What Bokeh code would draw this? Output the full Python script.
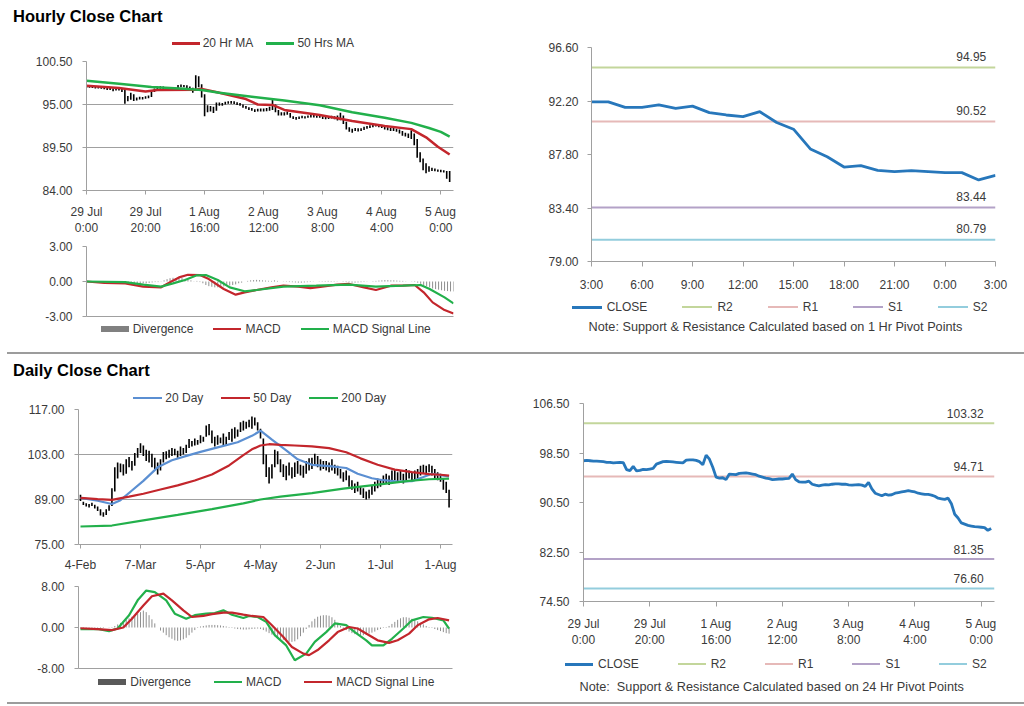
from bokeh.plotting import figure
from bokeh.models import FixedTicker, NumeralTickFormatter, Range1d, Div
from bokeh.layouts import column, row
from bokeh.embed import file_html
from bokeh.resources import INLINE
from bokeh.core.properties import value

# ---------------------------------------------------------------- data
hour_ticks = [0, 20, 40, 60, 80, 100, 120]
hour_tick_labels = ["29 Jul\n0:00", "29 Jul\n20:00", "1 Aug\n16:00", "2 Aug\n12:00",
                    "3 Aug\n8:00", "4 Aug\n4:00", "5 Aug\n0:00"]

hourly_close = [97.25, 97.3, 97.25, 97.2, 97.2, 97.15, 97.1, 97.0, 97.0, 96.9,
                96.95, 97.0, 96.95, 95.8, 95.65, 96.35, 95.6, 95.7, 95.85, 95.8,
                95.9, 96.0, 96.7, 96.9, 97.1, 97.15, 97.1, 97.05, 97.0, 96.95,
                96.9, 97.35, 97.4, 97.4, 97.3, 97.1, 96.6, 98.15, 97.5, 96.2,
                94.6, 94.45, 94.5, 94.2, 95.1, 95.05, 95.0, 95.2, 95.25, 95.3,
                95.2, 95.1, 95.0, 94.75, 94.6, 94.45, 94.35, 94.2, 94.25, 94.3,
                94.3, 94.35, 94.4, 95.1, 94.2, 93.85, 93.8, 93.8, 93.95, 93.45,
                93.3, 93.2, 93.3, 93.4, 93.35, 93.45, 93.5, 93.5, 93.45, 93.45,
                93.35, 93.3, 93.35, 93.4, 93.3, 93.1, 93.75, 92.7, 92.0, 91.8,
                91.6, 91.85, 91.7, 91.75, 92.0, 92.1, 92.2, 92.3, 92.4, 92.3,
                92.2, 92.0, 91.9, 91.8, 91.8, 91.7, 91.5, 91.2, 91.1, 91.0,
                91.2, 90.3, 88.6, 88.0, 87.2, 87.0, 86.8, 86.7, 86.6, 86.55,
                86.5, 86.45, 86.0, 86.3]
hourly_low = [97.1, 97.15, 97.1, 97.05, 97.05, 97.0, 96.95, 96.85, 96.85, 96.7,
              96.8, 96.8, 96.6, 95.1, 95.4, 95.6, 95.45, 95.5, 95.65, 95.65,
              95.75, 95.8, 95.95, 96.6, 96.85, 97.0, 96.95, 96.9, 96.85, 96.8,
              96.75, 96.9, 97.2, 97.2, 97.1, 96.95, 96.5, 96.8, 97.2, 95.9,
              93.5, 94.0, 94.1, 93.9, 94.2, 94.85, 94.85, 95.0, 95.1, 95.1,
              95.05, 94.95, 94.85, 94.6, 94.45, 94.3, 94.2, 94.05, 94.1, 94.1,
              94.1, 94.15, 94.2, 94.3, 94.0, 93.6, 93.6, 93.6, 93.7, 93.3,
              93.15, 93.05, 93.15, 93.25, 93.2, 93.3, 93.35, 93.35, 93.3, 93.3,
              93.15, 93.1, 93.15, 93.2, 93.1, 92.95, 93.0, 92.5, 91.8, 91.5,
              91.4, 91.6, 91.55, 91.6, 91.75, 91.9, 92.0, 92.1, 92.2, 92.1,
              92.0, 91.8, 91.7, 91.6, 91.6, 91.5, 91.3, 91.0, 90.9, 90.7,
              90.6, 89.8, 88.2, 87.6, 86.6, 86.2, 86.4, 86.5, 86.45, 86.4,
              86.35, 86.3, 85.5, 85.1]
hourly_high = [97.45, 97.45, 97.4, 97.35, 97.35, 97.3, 97.25, 97.2, 97.15, 97.05,
               97.1, 97.15, 97.1, 96.9, 96.1, 96.5, 96.3, 95.9, 96.0, 95.95,
               96.05, 96.15, 96.85, 97.05, 97.3, 97.35, 97.3, 97.2, 97.15, 97.1,
               97.15, 97.5, 97.55, 97.5, 97.45, 97.3, 97.15, 98.75, 98.6, 97.6,
               96.3, 94.9, 94.8, 94.7, 95.25, 95.25, 95.2, 95.35, 95.4, 95.45,
               95.4, 95.3, 95.2, 95.0, 94.8, 94.65, 94.55, 94.4, 94.45, 94.5,
               94.5, 94.55, 94.7, 95.6, 95.0, 94.3, 94.0, 94.0, 94.1, 93.9,
               93.5, 93.4, 93.45, 93.55, 93.5, 93.6, 93.65, 93.65, 93.6, 93.6,
               93.5, 93.5, 93.5, 93.55, 93.5, 93.6, 93.95, 93.6, 92.8, 92.1,
               91.9, 92.0, 91.95, 91.95, 92.15, 92.25, 92.35, 92.45, 92.5, 92.45,
               92.4, 92.2, 92.1, 92.0, 92.0, 91.9, 91.8, 91.6, 91.4, 91.3,
               91.7, 91.3, 90.6, 88.9, 88.1, 87.5, 87.1, 86.9, 86.8, 86.7,
               86.65, 86.6, 86.5, 86.5]
ma20h_x = [0, 11, 20, 24, 37, 39, 45, 54, 58, 63, 67, 79, 85, 90, 101, 110, 115, 119, 123]
ma20h_y = [97.4, 97.1, 96.65, 96.85, 96.9, 97.0, 96.5, 95.7, 95.0, 94.95, 94.3, 93.65,
           93.25, 92.9, 92.25, 91.85, 90.8, 89.6, 88.6]
ma50h_x = [0, 11, 22, 33, 39, 45, 56, 67, 79, 90, 101, 110, 116, 120, 123]
ma50h_y = [98.05, 97.65, 97.25, 97.0, 96.85, 96.5, 96.0, 95.5, 94.9, 94.0, 93.3, 92.65,
           92.0, 91.5, 90.9]
hmacd_x = [0, 6, 13, 19, 25, 28, 31, 34, 38, 41, 46, 50, 53, 57, 62, 66, 71, 75, 79, 84,
           88, 93, 97, 102, 106, 110, 113, 116, 120, 123]
hmacd_y = [0.0, -0.13, -0.16, -0.44, -0.5, -0.07, 0.35, 0.58, 0.55, 0.21, -0.64, -1.13,
           -0.93, -0.73, -0.5, -0.36, -0.44, -0.56, -0.44, -0.27, -0.21, -0.5, -0.73,
           -0.36, -0.36, -0.3, -0.93, -1.79, -2.45, -2.75]
hsig_x = [0, 13, 19, 25, 29, 33, 37, 40, 44, 48, 53, 57, 66, 77, 88, 97, 106, 112, 115, 120, 123]
hsig_y = [0.0, -0.06, -0.27, -0.44, -0.16, 0.13, 0.53, 0.55, 0.13, -0.5, -0.84, -0.73,
          -0.44, -0.36, -0.27, -0.44, -0.36, -0.3, -0.64, -1.36, -1.88]
hourly_divergence = [0.02, 0.02, 0.03, 0.02, 0.02, 0.01, 0.0, -0.02, -0.03, -0.05, -0.05,
                     -0.06, -0.08, -0.15, -0.18,
                     -0.15, -0.2, -0.2, -0.18, -0.17, -0.15, -0.12, -0.08, -0.05, -0.05, 0.02,
                     0.1, 0.2, 0.28, 0.32, 0.3, 0.33, 0.3, 0.22, 0.15, 0.1, 0.02,
                     0.05, -0.05, -0.15, -0.3, -0.4, -0.45, -0.5, -0.5, -0.45, -0.42, -0.38,
                     -0.35, -0.3, -0.25, -0.15, -0.1,
                     0.0, 0.05, 0.1, 0.12, 0.14, 0.12, 0.1, 0.08, 0.06, 0.05, 0.1, 0.05, 0.0, -0.02,
                     -0.03, -0.05, -0.06, -0.08, -0.1, -0.1, -0.08, -0.06, -0.04, -0.02, 0.0,
                     0.02, 0.03, 0.04, 0.05, 0.04, 0.03, 0.02, 0.0, 0.03, -0.05, -0.08, -0.1, -0.1,
                     -0.08, -0.06, -0.04, -0.02, 0.0, 0.03, 0.05, 0.08, 0.1, 0.12, 0.12, 0.1,
                     0.1, 0.08, 0.06, 0.05, 0.02, 0.0, -0.02, -0.04,
                     -0.1, -0.2, -0.3, -0.4, -0.5, -0.6, -0.65, -0.7, -0.75, -0.8, -0.82, -0.85, -0.85]

last24_ticks = [0, 3, 6, 9, 12, 15, 18, 21, 24]
last24_labels = ["3:00", "6:00", "9:00", "12:00", "15:00", "18:00", "21:00", "0:00", "3:00"]
last24_close = [92.13, 92.13, 91.67, 91.67, 91.89, 91.59, 91.78, 91.24, 91.05, 90.91,
                91.32, 90.43, 89.88, 88.26, 87.61, 86.77, 86.88, 86.50, 86.39, 86.47,
                86.39, 86.31, 86.31, 85.71, 86.09]
level_names = ["R2", "R1", "S1", "S2"]
levels_1h = [94.95, 90.52, 83.44, 80.79]
levels_24h = [103.32, 94.71, 81.35, 76.60]

day_ticks = [0, 21, 42, 63, 84, 105, 126]
day_tick_labels = ["4-Feb", "7-Mar", "5-Apr", "4-May", "2-Jun", "1-Jul", "1-Aug"]
daily_low = [88.5, 87.3, 86.8, 86.5, 87.0, 86.2, 85.4, 84.0, 83.6, 84.2,
             85.5, 87.0, 91.5, 95.5, 97.5, 96.5, 97.0, 99.0, 98.0, 99.5,
             102.0, 103.5, 102.5, 101.0, 100.5, 99.0, 98.5, 96.8, 98.0, 100.5,
             101.5, 102.0, 102.5, 102.8, 102.0, 102.5, 103.0, 103.5, 105.0, 105.5,
             105.8, 106.0, 106.5, 107.0, 108.5, 109.0, 106.5, 105.5, 106.0, 106.5,
             105.8, 106.0, 107.5, 107.0, 108.0, 108.5, 110.0, 110.5, 111.0, 111.5,
             111.0, 112.0, 110.5, 108.0, 100.0, 96.0, 94.0, 95.5, 99.0, 100.0,
             97.5, 96.0, 95.0, 96.5, 95.5, 96.0, 97.0, 96.5, 95.8, 97.0,
             98.0, 98.5, 99.5, 99.0, 98.0, 98.5, 98.0, 97.5, 98.0, 97.0,
             96.5, 95.5, 94.5, 95.0, 93.0, 92.0, 91.0, 91.5, 90.5, 89.5,
             89.0, 89.3, 90.5, 91.5, 92.5, 93.0, 93.5, 94.0, 93.5, 94.5,
             95.0, 94.5, 95.0, 94.0, 95.0, 95.5, 94.5, 95.0, 95.5, 96.5,
             97.0, 96.8, 97.5, 96.5, 95.5, 95.0, 94.5, 92.0, 91.0, 86.5]
daily_high = [90.5, 88.3, 87.8, 87.6, 88.0, 87.4, 86.8, 86.0, 85.0, 86.0,
              87.2, 92.5, 99.0, 100.5, 100.2, 100.0, 101.5, 102.2, 101.0, 103.5,
              105.0, 106.5, 105.8, 104.5, 104.2, 103.2, 102.0, 100.5, 101.5, 103.8,
              104.0, 104.5, 105.0, 104.8, 104.2, 105.5, 105.0, 106.0, 107.8, 107.2,
              108.0, 107.5, 109.0, 108.5, 112.0, 112.5, 110.5, 108.5, 109.0, 108.3,
              109.5, 108.5, 110.0, 111.0, 111.5, 110.8, 113.0, 113.5, 113.2, 113.8,
              114.8, 114.5, 113.0, 111.0, 108.0, 103.0, 99.0, 100.0, 104.5, 104.0,
              101.5, 100.0, 99.5, 100.5, 99.0, 100.5, 101.0, 99.8, 99.5, 101.0,
              101.8, 102.0, 103.2, 102.5, 101.5, 101.0, 101.0, 100.5, 101.5, 99.8,
              99.5, 98.5, 97.5, 98.0, 96.5, 95.0, 94.0, 94.5, 93.0, 92.5,
              91.5, 92.0, 93.5, 94.5, 95.5, 95.0, 96.5, 97.0, 96.5, 98.0,
              98.5, 97.5, 98.2, 97.0, 98.5, 98.0, 97.5, 98.0, 98.5, 99.5,
              99.8, 99.5, 100.0, 99.5, 98.5, 97.5, 97.0, 95.5, 94.5, 92.0]
ma20d_x = [0, 6, 11, 14, 18, 22, 27, 32, 38, 42, 48, 55, 60, 63, 67, 72, 76, 81, 87, 93,
           97, 102, 106, 111, 116, 120, 123, 126, 129]
ma20d_y = [89.5, 88.6, 87.6, 88.8, 91.8, 94.8, 99.0, 101.2, 102.8, 103.8, 105.2, 106.8,
           108.8, 110.4, 107.6, 104.3, 101.5, 99.8, 99.4, 98.8, 97.0, 95.6, 95.0, 94.6,
           94.7, 96.0, 97.0, 96.6, 96.2]
ma50d_x = [0, 6, 11, 17, 22, 28, 34, 40, 46, 52, 57, 60, 63, 66, 70, 75, 81, 87, 93, 98,
           104, 110, 116, 122, 126, 129]
ma50d_y = [89.5, 89.1, 88.9, 89.9, 90.8, 92.1, 93.4, 94.9, 96.8, 99.6, 102.8, 104.6, 105.8,
           106.2, 106.0, 105.8, 105.5, 105.0, 103.7, 101.8, 99.8, 98.3, 97.5, 96.9, 96.7, 96.4]
ma200d_x = [0, 11, 22, 34, 46, 57, 63, 70, 81, 92, 104, 115, 122, 129]
ma200d_y = [80.6, 80.9, 82.5, 84.2, 86.0, 87.8, 89.0, 89.9, 91.0, 92.4, 93.6, 94.8, 95.3, 95.5]
dmacd_x = [0, 6, 10, 13, 17, 20, 23, 26, 30, 33, 37, 40, 44, 47, 50, 53, 57, 59, 62, 65,
           68, 72, 75, 79, 82, 86, 89, 93, 96, 100, 102, 106, 109, 113, 116, 120, 123, 127, 129]
dmacd_y = [-0.3, -0.3, -0.7, -0.2, 2.4, 5.3, 7.2, 6.9, 5.3, 2.7, 1.7, 2.4, 2.7, 2.8, 3.35,
           2.5, 1.85, 2.25, 2.05, 1.1, -1.5, -3.5, -6.4, -5.1, -2.8, -0.9, 0.8, 0.45, -0.9,
           -2.5, -3.5, -3.5, -2.2, -0.2, 1.4, 2.05, 1.9, 1.4, -0.2]
dsig_x = [0, 6, 11, 15, 18, 22, 25, 29, 32, 36, 39, 43, 46, 50, 53, 57, 60, 64, 67, 71,
          74, 78, 80, 83, 87, 90, 94, 97, 101, 104, 108, 111, 115, 118, 122, 125, 129]
dsig_y = [-0.15, -0.3, -0.5, 0.0, 1.7, 4.3, 6.1, 6.6, 5.3, 3.35, 2.05, 2.25, 2.6, 2.9, 2.9,
          2.5, 2.25, 2.05, 0.45, -1.85, -3.8, -5.1, -5.4, -4.4, -2.5, -0.9, 0.1, -0.2, -1.5,
          -2.5, -3.0, -2.5, -1.2, 0.45, 1.6, 1.85, 1.4]
daily_divergence = [-0.1, -0.1, -0.15, -0.15, -0.2, -0.2, -0.15, -0.1, -0.1, 0.0, 0.05, 0.1,
                    0.3, 0.6, 0.9, 1.2, 1.5, 1.8, 2.1, 2.4, 2.7, 3.0, 3.3, 3.0, 2.4, 1.6, 0.8,
                    0.0, -0.6, -1.0, -1.5, -1.9, -2.2, -2.5, -2.6, -2.5, -2.3, -2.0, -1.5, -1.0,
                    -0.5, -0.1,
                    0.2, 0.3, 0.4, 0.5, 0.5, 0.5, 0.45, 0.4, 0.3, 0.2, 0.1,
                    -0.1, -0.2, -0.3, -0.35, -0.4, -0.4, -0.35, -0.3, -0.25, -0.2, -0.3, -0.5,
                    -0.8, -1.1, -1.4, -1.7, -2.0, -2.2, -2.4, -2.6, -2.8, -2.8, -2.7, -2.3, -1.7,
                    -1.0, -0.3,
                    0.5, 1.2, 1.7, 2.1, 2.3, 2.4, 2.4, 2.3, 2.0, 1.5, 0.9, 0.3,
                    -0.2, -0.5, -0.8, -1.1, -1.3, -1.4, -1.5, -1.5, -1.4, -1.2, -1.0, -0.8, -0.5,
                    -0.3, -0.1, 0.1,
                    0.3, 0.7, 1.1, 1.5, 1.8, 2.0, 2.0, 1.9, 1.7, 1.5, 1.2, 0.9, 0.6, 0.3, 0.1,
                    -0.1, -0.3, -0.5, -0.7, -0.9, -1.1, -1.2]

# ---------------------------------------------------------------- style
FONT = "Liberation Sans"
FONT_CSS = "font-family:'Liberation Sans',Arial,sans-serif;"
AX = "#a0a0a0"
TXT = "#3a3a3a"
RED = "#c3262c"
GREEN = "#22b04b"
BLUE_MA = "#5b8fd2"
CLOSE_BLUE = "#2777bb"
DIV_GRAY = "#8f8f8f"
LEVEL_COLORS = ["#c3d69b", "#e6b9b8", "#b3a2c7", "#93cddd"]


def base_fig(w, h, xr, yr, left, right, top, bottom):
    p = figure(width=w, height=h, x_range=Range1d(*xr), y_range=Range1d(*yr),
               output_backend="svg", toolbar_location=None, tools="",
               min_border_left=left, min_border_right=right,
               min_border_top=top, min_border_bottom=bottom)
    p.outline_line_color = None
    p.background_fill_color = "white"
    p.border_fill_color = "white"
    p.xgrid.visible = False
    p.ygrid.visible = False
    for ax in (p.xaxis[0], p.yaxis[0]):
        ax.axis_line_color = AX
        ax.major_tick_line_color = AX
        ax.minor_tick_line_color = None
        ax.major_tick_in = 0
        ax.major_tick_out = 4
        ax.major_label_standoff = 10
        ax.major_label_text_font = FONT
        ax.major_label_text_font_size = "12px"
        ax.major_label_text_color = TXT
    return p


def set_y(p, ticks, grid=None):
    p.yaxis[0].ticker = FixedTicker(ticks=ticks)
    p.yaxis[0].formatter = NumeralTickFormatter(format="0.00")
    if grid:
        p.ygrid.visible = True
        p.ygrid.ticker = FixedTicker(ticks=grid)
        p.ygrid.grid_line_color = AX
        p.ygrid.grid_line_width = 1


def set_x(p, ticks, labels):
    p.xaxis[0].ticker = FixedTicker(ticks=ticks)
    p.xaxis[0].major_label_overrides = {t: s for t, s in zip(ticks, labels)}


def bare_x(p):
    ax = p.xaxis[0]
    ax.ticker = FixedTicker(ticks=[])
    ax.major_tick_out = 0
    ax.major_label_standoff = 0
    ax.major_label_text_font_size = "0px"


# ---- HTML pieces (titles, legends, notes) placed at exact pixel offsets
def abs_text(left, top, text, size=12, bold=False, color=TXT, width=None, align="left", lh=14):
    w = "width:%dpx;" % width if width else ""
    return ('<div style="position:absolute;left:%spx;top:%spx;%stext-align:%s;white-space:nowrap;'
            '%sfont-size:%spx;line-height:%spx;font-weight:%s;color:%s">%s</div>'
            % (left, top, w, align, FONT_CSS, size, lh, "bold" if bold else "normal", color, text))


def abs_legend(left, top, entries, gap, glyph_w, standoff, size=12):
    parts = []
    for label, color, thick in entries:
        parts.append('<span style="display:inline-flex;align-items:center;margin-right:%spx">'
                     '<span style="display:inline-block;width:%spx;height:%spx;background:%s;'
                     'margin-right:%spx"></span><span>%s</span></span>'
                     % (gap, glyph_w, thick, color, standoff, label))
    return ('<div style="position:absolute;left:%spx;top:%spx;height:12px;display:flex;'
            'align-items:center;white-space:nowrap;%sfont-size:%spx;line-height:12px;color:%s">'
            % (left, top, FONT_CSS, size, TXT) + "".join(parts) + "</div>")


def html_panel(w, h, inner):
    return Div(text='<div style="position:relative;width:%dpx;height:%dpx">%s</div>' % (w, h, inner),
               width=w, height=h, margin=(0, 0, 0, 0))


def separator(w):
    return Div(text="", width=w, height=2, margin=(0, 0, 0, 0),
               styles={"background": "linear-gradient(to right, #ffffff 7px, #9c9c9c 7px)"})


PIVOT_LEGEND = [("CLOSE", CLOSE_BLUE, 3)] + [(n, c, 2) for n, c in zip(level_names, LEVEL_COLORS)]

# ---------------------------------------------------------------- hourly header
hdrA = html_panel(470, 54,
                  abs_text(13, 6, "Hourly Close Chart", size=16.5, bold=True, color="#000", lh=20)
                  + abs_legend(171.7, 37.3, [("20 Hr MA", RED, 2.5), ("50 Hrs MA", GREEN, 2.5)],
                               13, 28, 3))

# ---------------------------------------------------------------- hourly bars + MA
n_h = len(hourly_close)
hx = list(range(n_h))
pA = base_fig(470, 184, (0, 124.3), (84, 100.5), 86, 17, 7, 42)
set_y(pA, [84, 89.5, 95, 100.5], grid=[89.5, 95, 100.5])
set_x(pA, hour_ticks, hour_tick_labels)
pA.segment(x0=hx, y0=hourly_low[:n_h], x1=hx, y1=hourly_high[:n_h],
           line_color="black", line_width=1.6)
pA.line(ma20h_x, ma20h_y, line_color=RED, line_width=2.5)
pA.line(ma50h_x, ma50h_y, line_color=GREEN, line_width=2.5)

# ---------------------------------------------------------------- hourly MACD
pB = base_fig(470, 85, (0, 123), (-3, 3), 86, 17, 8, 7)
set_y(pB, [-3, 0, 3], grid=[3])
bare_x(pB)
dxh = list(range(len(hourly_divergence)))
pB.segment(x0=dxh, y0=[0] * len(dxh), x1=dxh, y1=hourly_divergence,
           line_color=DIV_GRAY, line_width=1)
pB.line(hmacd_x, hmacd_y, line_color=RED, line_width=2.2)
pB.line(hsig_x, hsig_y, line_color=GREEN, line_width=2.2)

legB = html_panel(470, 29, abs_legend(100.7, 0, [("Divergence", "#808080", 6), ("MACD", RED, 2),
                                                 ("MACD Signal Line", GREEN, 2)], 20, 28, 4))

# ---------------------------------------------------------------- last 24h pivot chart
pC = base_fig(554, 294, (0, 24), (79, 96.6), 121, 29, 47, 30)
pC.yaxis[0].ticker = FixedTicker(ticks=[79, 83.4, 87.8, 92.2, 96.6])
pC.yaxis[0].formatter = NumeralTickFormatter(format="0.00")
pC.xaxis[0].major_tick_out = 5
pC.xaxis[0].major_label_standoff = 11
pC.yaxis[0].major_label_standoff = 9
set_x(pC, last24_ticks, last24_labels)
for lv, col in zip(levels_1h, LEVEL_COLORS):
    pC.line([0, 24], [lv, lv], line_color=col, line_width=2)
pC.line(list(range(len(last24_close))), last24_close, line_color=CLOSE_BLUE, line_width=2.8)
pC.text(x=[23.45] * len(levels_1h), y=levels_1h, text=["%.2f" % v for v in levels_1h],
        text_align="right", text_baseline="middle", y_offset=-11,
        text_font=value(FONT), text_font_size="12px", text_color=TXT)

legC = html_panel(554, 58,
                  abs_legend(101.7, 7, PIVOT_LEGEND, 35, 30, 5)
                  + abs_text(5.5, 26, "Note: Support &amp; Resistance Calculated based on 1 Hr Pivot Points",
                             size=12.7, width=600, align="center"))

# ---------------------------------------------------------------- daily header
hdrD = html_panel(470, 50,
                  abs_text(13, 5.5, "Daily Close Chart", size=16.5, bold=True, color="#000", lh=20)
                  + abs_legend(133.3, 38.3, [("20 Day", BLUE_MA, 2.2), ("50 Day", RED, 2.2),
                                             ("200 Day", GREEN, 2.2)], 18, 29, 3))

# ---------------------------------------------------------------- daily bars + MA
n_d = len(daily_low)
dx = list(range(n_d))
pD = base_fig(470, 170, (-0.7, 130.2), (75, 117), 78, 18, 5, 28)
set_y(pD, [75, 89, 103, 117], grid=[89, 103, 117])
set_x(pD, day_ticks, day_tick_labels)
pD.xaxis[0].major_label_standoff = 9
pD.segment(x0=dx, y0=daily_low, x1=dx, y1=daily_high, line_color="black", line_width=1.6)
pD.line(ma20d_x, ma20d_y, line_color=BLUE_MA, line_width=2.2)
pD.line(ma50d_x, ma50d_y, line_color=RED, line_width=2.2)
pD.line(ma200d_x, ma200d_y, line_color=GREEN, line_width=2.2)

# ---------------------------------------------------------------- daily MACD
pE = base_fig(470, 101, (-0.7, 130.2), (-8, 8), 78, 18, 12, 7)
set_y(pE, [-8, 0, 8], grid=[8])
bare_x(pE)
ddx = list(range(len(daily_divergence)))
pE.segment(x0=ddx, y0=[0] * len(ddx), x1=ddx, y1=daily_divergence,
           line_color=DIV_GRAY, line_width=1)
pE.line(dmacd_x, dmacd_y, line_color=GREEN, line_width=2.2)
pE.line(dsig_x, dsig_y, line_color=RED, line_width=2.2)

legE = html_panel(470, 27, abs_legend(98.3, 1.3, [("Divergence", "#595959", 6), ("MACD", GREEN, 2),
                                                  ("MACD Signal Line", RED, 2)], 23, 28, 4))

# ---------------------------------------------------------------- hourly pivot chart
pF = base_fig(554, 296, (0, 124), (74.5, 106.5), 113, 30, 49, 46)
pF.yaxis[0].ticker = FixedTicker(ticks=[74.5, 82.5, 90.5, 98.5, 106.5])
pF.yaxis[0].formatter = NumeralTickFormatter(format="0.00")
pF.xaxis[0].major_tick_out = 5
set_x(pF, hour_ticks, hour_tick_labels)
for lv, col in zip(levels_24h, LEVEL_COLORS):
    pF.line([0, 124], [lv, lv], line_color=col, line_width=2)
pF.line(hx, hourly_close, line_color=CLOSE_BLUE, line_width=2.8)
pF.text(x=[120.7] * len(levels_24h), y=levels_24h, text=["%.2f" % v for v in levels_24h],
        text_align="right", text_baseline="middle", y_offset=-10,
        text_font=value(FONT), text_font_size="12px", text_color=TXT)

legF = html_panel(554, 52,
                  abs_legend(95, 8, PIVOT_LEGEND, 39, 28, 5)
                  + abs_text(1.7, 29.7,
                             "Note:&nbsp; Support &amp; Resistance Calculated based on 24 Hr Pivot Points",
                             size=12.7, width=600, align="center"))

# ---------------------------------------------------------------- page layout
top = row(column(hdrA, pA, pB, legB, spacing=0), column(pC, legC, spacing=0), spacing=0)
bottom = row(column(hdrD, pD, pE, legE, spacing=0), column(pF, legF, spacing=0), spacing=0)
layout = column(top, separator(1024), bottom, separator(1024), spacing=0)

open("out.html", "w").write(file_html(layout, INLINE, title="Hourly and Daily Close Charts"))
